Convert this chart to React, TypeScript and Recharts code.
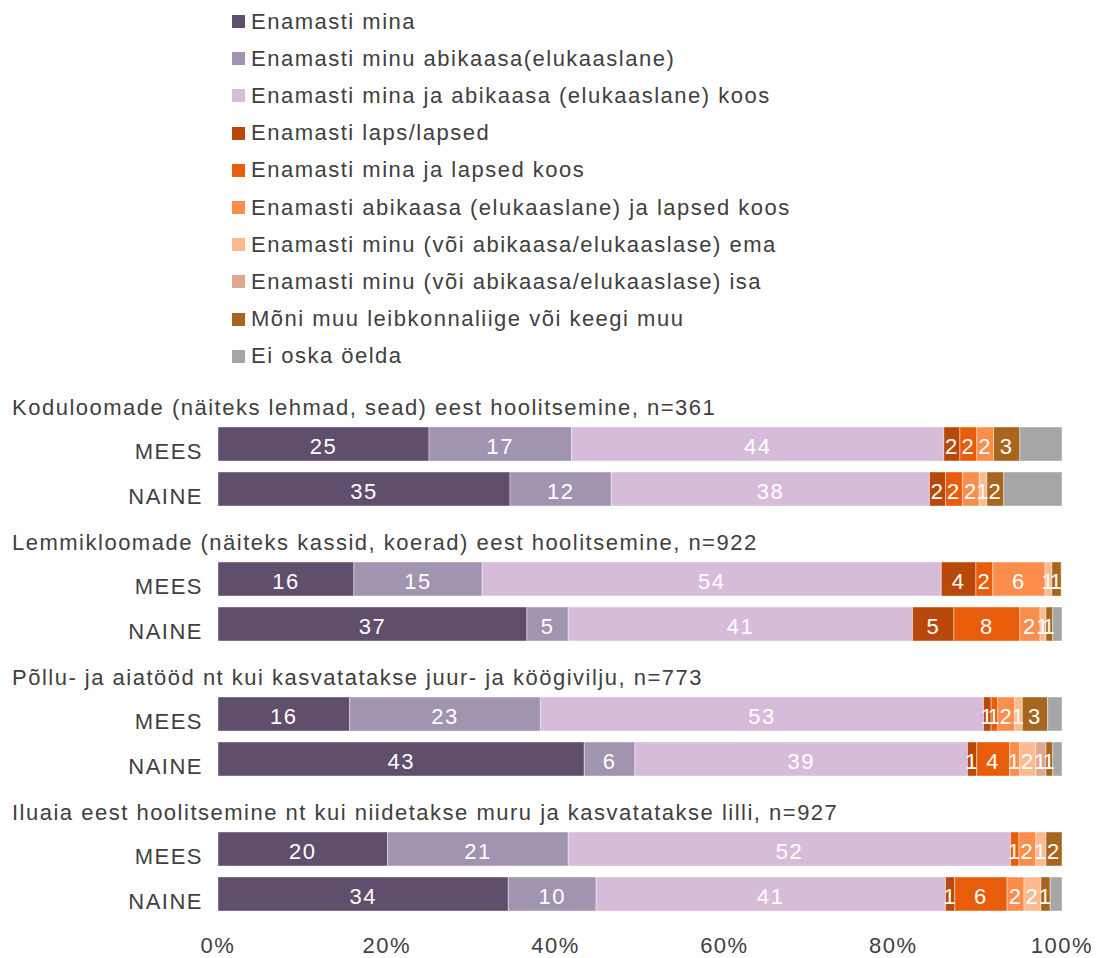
import React from 'react';
import { BarChart, Bar, XAxis, YAxis, Legend, LabelList } from 'recharts';

const groupTitles = [
  'Koduloomade (näiteks lehmad, sead) eest hoolitsemine, n=361',
  'Lemmikloomade (näiteks kassid, koerad) eest hoolitsemine, n=922',
  'Põllu- ja aiatööd nt kui kasvatatakse juur- ja köögivilju, n=773',
  'Iluaia eest hoolitsemine nt kui niidetakse muru ja kasvatatakse lilli, n=927',
];
const genders = ['MEES', 'NAINE'];

const seriesKeys = ['mina', 'abikaasa', 'koos', 'laps', 'minaLapsed', 'abikaasaLapsed', 'ema', 'isa', 'muu', 'eiOska'];
const seriesNames = [
  'Enamasti mina',
  'Enamasti minu abikaasa(elukaaslane)',
  'Enamasti mina ja abikaasa (elukaaslane) koos',
  'Enamasti laps/lapsed',
  'Enamasti mina ja lapsed koos',
  'Enamasti abikaasa (elukaaslane) ja lapsed koos',
  'Enamasti minu (või abikaasa/elukaaslase) ema',
  'Enamasti minu (või abikaasa/elukaaslase) isa',
  'Mõni muu leibkonnaliige või keegi muu',
  'Ei oska öelda',
];
const seriesColors = ['#5F4E6C', '#A194B0', '#D7BCDA', '#B8490A', '#E85D0C', '#FB8E4C', '#FDBA8F', '#DEA88F', '#A8651E', '#A6A6A6'];
const labelled = [true, true, true, true, true, true, true, true, true, false];

// order: G1 MEES, G1 NAINE, G2 MEES, G2 NAINE, G3 MEES, G3 NAINE, G4 MEES, G4 NAINE
const mina = [25.0, 34.6, 16.1, 36.6, 15.6, 43.4, 20.1, 34.4];
const abikaasa = [16.9, 12.0, 15.2, 4.9, 22.6, 6.0, 21.4, 10.4];
const koos = [44.1, 37.7, 54.4, 40.8, 52.5, 39.4, 52.4, 41.4];
const laps = [1.9, 1.9, 4.1, 4.9, 0.9, 1.1, 0, 1.1];
const minaLapsed = [2.0, 2.0, 2.0, 7.8, 0.8, 3.9, 1.0, 6.2];
const abikaasaLapsed = [2.0, 2.0, 6.2, 2.4, 2.0, 1.2, 2.0, 2.0];
const ema = [0, 0.9, 0.8, 0.7, 0.9, 1.9, 1.2, 2.0];
const isa = [0, 0, 0, 0, 0, 1.2, 0, 0];
const muu = [3.1, 2.0, 1.1, 0.8, 3.0, 0.8, 1.9, 1.1];
const eiOska = [5.0, 6.9, 0, 1.1, 1.7, 1.1, 0, 1.4];

const xTicks = [0, 20, 40, 60, 80, 100];

const seriesValues = [mina, abikaasa, koos, laps, minaLapsed, abikaasaLapsed, ema, isa, muu, eiOska];

type Row = { id: string; label: string; header: boolean; [k: string]: any };
const rows: Row[] = [];
groupTitles.forEach((title, g) => {
  rows.push({ id: `h${g}`, label: title, header: true });
  genders.forEach((gender, s) => {
    const i = g * 2 + s;
    const r: Row = { id: `r${g}-${s}`, label: gender, header: false };
    seriesKeys.forEach((k, j) => {
      r[k] = seriesValues[j][i];
    });
    rows.push(r);
  });
});

const TEXT = '#404040';
const FONT = 22;

const YTick = (props: any) => {
  const { y, payload } = props;
  const row = rows[payload.index];
  if (!row) return null;
  if (row.header) {
    return (
      <text x={12} y={y + 16.5} textAnchor="start" fill={TEXT} fontSize={FONT}>
        {row.label}
      </text>
    );
  }
  return (
    <text x={203} y={y + 15} textAnchor="end" fill={TEXT} fontSize={FONT}>
      {row.label}
    </text>
  );
};

const XTick = (props: any) => {
  const { x, y, payload } = props;
  return (
    <text x={x} y={y + 37} textAnchor="middle" fill={TEXT} fontSize={FONT}>
      {`${payload.value}%`}
    </text>
  );
};

const BarLabel = (props: any) => {
  const { x, y, width, height, value } = props;
  if (value == null || value < 0.5) return null;
  return (
    <text x={x + width / 2} y={y + height / 2 + 10} textAnchor="middle" fill="#FFFFFF" fontSize={FONT}>
      {Math.round(value)}
    </text>
  );
};

const LegendContent = (props: any) => {
  const payload = [...(props.payload || [])].sort(
    (a: any, b: any) => seriesNames.indexOf(a.value) - seriesNames.indexOf(b.value)
  );
  return (
    <div style={{ position: 'relative', width: 1098, height: 376 }}>
      {payload.map((p: any, i: number) => (
        <div
          key={p.value}
          style={{
            position: 'absolute',
            left: 232,
            top: 21.5 + i * 37.2 - 15,
            height: 30,
            display: 'flex',
            alignItems: 'center',
            whiteSpace: 'nowrap',
          }}
        >
          <span style={{ display: 'inline-block', width: 13, height: 13, background: p.color, marginRight: 6 }} />
          <span style={{ color: TEXT, fontSize: FONT, lineHeight: '30px' }}>{p.value}</span>
        </div>
      ))}
    </div>
  );
};

export default function App() {
  return (
    <div
      style={{
        position: 'absolute',
        left: 0,
        top: 0,
        width: 1098,
        height: 958,
        background: '#fff',
        fontFamily: '"Liberation Sans", Arial, sans-serif',
        letterSpacing: 1.5,
      }}
    >
      <BarChart
        width={1098}
        height={958}
        data={rows}
        layout="vertical"
        margin={{ top: 0, right: 36, bottom: 0, left: 0 }}
        barSize={34}
      >
        <XAxis
          type="number"
          domain={[0, 100]}
          ticks={xTicks}
          axisLine={false}
          tickLine={false}
          tickSize={0}
          tickMargin={0}
          height={42}
          tick={<XTick />}
          interval={0}
        />
        <YAxis
          type="category"
          dataKey="id"
          width={218}
          axisLine={false}
          tickLine={false}
          tick={<YTick />}
          interval={0}
        />
        <Legend
          layout="horizontal"
          verticalAlign="top"
          align="center"
          wrapperStyle={{ top: 0, left: 0, width: 1098, height: 376 }}
          content={<LegendContent />}
        />
        {seriesKeys.map((k, j) => (
          <Bar
            key={k}
            dataKey={k}
            name={seriesNames[j]}
            stackId="a"
            fill={seriesColors[j]}
            stroke="#FFFFFF"
            strokeWidth={0.6}
            strokeOpacity={0.7}
            isAnimationActive={false}
          >
            {labelled[j] && <LabelList dataKey={k} content={<BarLabel />} />}
          </Bar>
        ))}
      </BarChart>
    </div>
  );
}
